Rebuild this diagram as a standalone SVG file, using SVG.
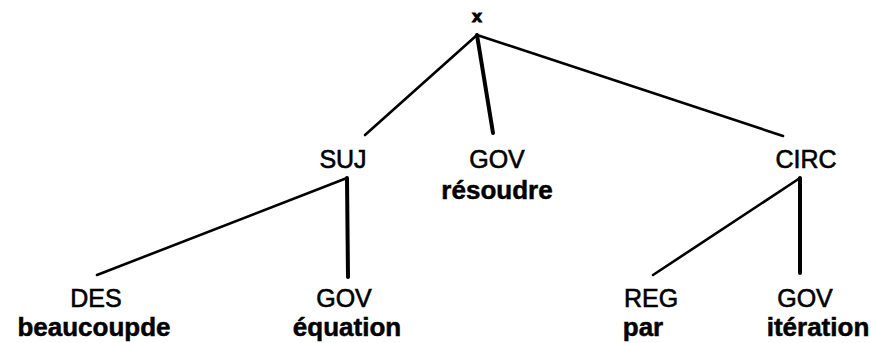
<svg xmlns="http://www.w3.org/2000/svg" width="871" height="343" viewBox="0 0 871 343">
<style>
.lbl{font-family:"Liberation Sans",Arial,sans-serif;font-size:25px;fill:#000;stroke:#000;stroke-width:0.6;text-anchor:middle}
.wd{font-family:"Liberation Sans",Arial,sans-serif;font-size:26px;font-weight:bold;fill:#000;stroke:#000;stroke-width:0.5;text-anchor:middle}
.e{stroke:#000;stroke-width:2.6;fill:none;stroke-linecap:round}
.v{stroke:#000;stroke-width:4;fill:none;stroke-linecap:round}
</style>
<rect width="871" height="343" fill="#fff"/>
<g id="connectors">
<line class="e" x1="477" y1="35" x2="365" y2="135"/>
<line class="v" x1="477" y1="35" x2="493" y2="133"/>
<line class="e" x1="477" y1="35" x2="783" y2="136"/>
<line class="e" x1="347" y1="178" x2="97" y2="275"/>
<line class="v" x1="347" y1="178" x2="348" y2="277"/>
<line class="e" x1="800" y1="178" x2="653" y2="275"/>
<line class="v" x1="800" y1="178" x2="800" y2="273"/>
</g>
<g id="root"><text class="wd" x="477" y="22" style="font-size:17px;stroke-width:1.2">x</text></g>
<g id="suj"><text class="lbl" x="343" y="168">SUJ</text></g>
<g id="gov1"><text class="lbl" x="497" y="168">GOV</text><text class="wd" x="497" y="199">résoudre</text></g>
<g id="circ"><text class="lbl" x="806" y="168">CIRC</text></g>
<g id="des"><text class="lbl" x="96" y="307">DES</text><text class="wd" x="94" y="336">beaucoupde</text></g>
<g id="gov2"><text class="lbl" x="344" y="307">GOV</text><text class="wd" x="347" y="336">équation</text></g>
<g id="reg"><text class="lbl" x="651" y="307">REG</text><text class="wd" x="643" y="336">par</text></g>
<g id="gov3"><text class="lbl" x="805" y="307">GOV</text><text class="wd" x="818" y="336">itération</text></g>
</svg>
